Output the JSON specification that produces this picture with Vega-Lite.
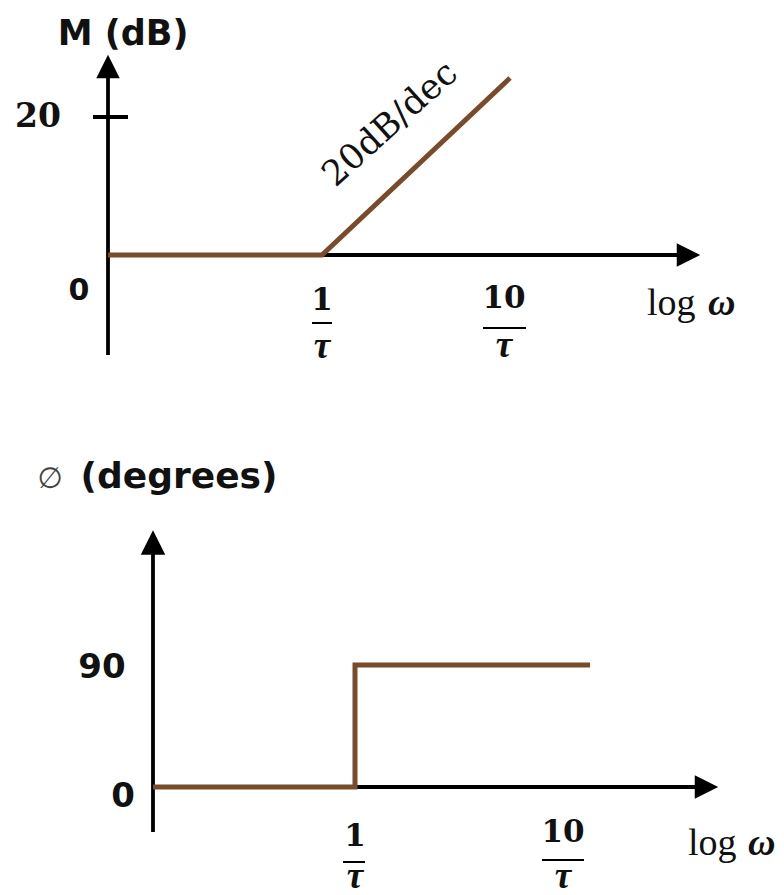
{
  "$schema": "https://vega.github.io/schema/vega-lite/v6.json",
  "padding": 0,
  "background": "white",
  "config": {"view": {"stroke": null}, "concat": {"spacing": 0}},
  "datasets": {
    "top_axes": [
      {"x": -1.1694, "x2": -1.1694, "y": -14.49, "y2": 26.5},
      {"x": -1.1694, "x2": 1.951, "y": 0, "y2": 0},
      {"x": -1.2514, "x2": -1.0601, "y": 20, "y2": 20}
    ],
    "top_bars": [
      {"x": -0.0546, "x2": 0.0546, "y": -9.855, "y2": -9.855},
      {"x": 0.8798, "x2": 1.1148, "y": -10.58, "y2": -10.58}
    ],
    "top_up": [{"x": -1.1694, "y": 27.32}],
    "top_right": [{"x": 2.0027, "y": 0}],
    "top_curve": [
      {"i": 0, "x": -1.1694, "y": 0},
      {"i": 1, "x": 0, "y": 0},
      {"i": 2, "x": 1.0273, "y": 25.65}
    ],
    "top_title": [{"x": -1.0874, "y": 30.43, "label": "M (dB)"}],
    "top_zero": [{"x": -1.3279, "y": -6.52, "label": "0"}],
    "top_twenty": [{"x": -1.5519, "y": 18.55, "label": "20"}],
    "top_nums": [
      {"x": 0, "y": -7.97, "label": "1"},
      {"x": 0.9945, "y": -7.68, "label": "10"}
    ],
    "top_tau": [
      {"x": 0, "y": -14.93, "label": "τ"},
      {"x": 0.9945, "y": -14.78, "label": "τ"}
    ],
    "top_log": [{"x": 1.776, "y": -8.7, "label": "log"}],
    "top_omega": [{"x": 2.1093, "y": -8.7, "label": "ω"}],
    "top_slope": [{"x": 0.3716, "y": 19.0, "label": "20dB/dec"}],
    "bot_axes": [
      {"x": -0.9712, "x2": -0.9712, "y": -33.2, "y2": 174},
      {"x": -0.9712, "x2": 1.65, "y": 0, "y2": 0}
    ],
    "bot_bars": [
      {"x": -0.0577, "x2": 0.0481, "y": -55.33, "y2": -55.33},
      {"x": 0.899, "x2": 1.101, "y": -53.85, "y2": -53.85}
    ],
    "bot_up": [{"x": -0.9712, "y": 180.37}],
    "bot_right": [{"x": 1.6899, "y": 0}],
    "bot_curve": [
      {"i": 0, "x": -0.9712, "y": 0},
      {"i": 1, "x": 0, "y": 0},
      {"i": 2, "x": 0, "y": 90},
      {"i": 3, "x": 1.1298, "y": 90}
    ],
    "bot_sans": [
      {"x": -1.2163, "y": 80.41, "label": "90"},
      {"x": -1.1154, "y": -14.75, "label": "0"}
    ],
    "bot_title": [{"x": -0.8462, "y": 220.57, "label": "(degrees)"}],
    "bot_phi": [{"x": -1.4663, "y": 220.57, "label": "∅"}],
    "bot_nums": [
      {"x": 0, "y": -43.52, "label": "1"},
      {"x": 1.0, "y": -40.57, "label": "10"}
    ],
    "bot_tau": [
      {"x": 0, "y": -74.51, "label": "τ"},
      {"x": 1.0, "y": -74.51, "label": "τ"}
    ],
    "bot_log": [{"x": 1.601, "y": -50.16, "label": "log"}],
    "bot_omega": [{"x": 1.8894, "y": -50.16, "label": "ω"}]
  },
  "vconcat": [
    {
      "width": 784,
      "height": 400,
      "encoding": {
        "x": {"field": "x", "type": "quantitative", "scale": {"domain": [-1.7596, 2.5246], "nice": false, "zero": false}, "axis": null},
        "y": {"field": "y", "type": "quantitative", "scale": {"domain": [-21.014, 36.957], "nice": false, "zero": false}, "axis": null}
      },
      "layer": [
        {"data": {"name": "top_axes"}, "mark": {"type": "rule", "color": "black", "strokeWidth": 3.8}, "encoding": {"x2": {"field": "x2"}, "y2": {"field": "y2"}}},
        {"data": {"name": "top_bars"}, "mark": {"type": "rule", "color": "black", "strokeWidth": 2}, "encoding": {"x2": {"field": "x2"}, "y2": {"field": "y2"}}},
        {"data": {"name": "top_up"}, "mark": {"type": "point", "shape": "M0,-1L1,1L-1,1Z", "size": 550, "filled": true, "color": "black", "opacity": 1, "strokeWidth": 0}},
        {"data": {"name": "top_right"}, "mark": {"type": "point", "shape": "M1,0L-1,-1L-1,1Z", "size": 550, "filled": true, "color": "black", "opacity": 1, "strokeWidth": 0}},
        {"data": {"name": "top_curve"}, "mark": {"type": "line", "color": "#7a4b2b", "strokeWidth": 5, "strokeCap": "butt", "strokeJoin": "miter"}, "encoding": {"order": {"field": "i", "type": "quantitative"}}},
        {"data": {"name": "top_title"}, "mark": {"type": "text", "font": "DejaVu Sans", "fontWeight": "bold", "fontSize": 35, "align": "center", "baseline": "alphabetic", "color": "#111"}, "encoding": {"text": {"field": "label"}}},
        {"data": {"name": "top_zero"}, "mark": {"type": "text", "font": "DejaVu Sans", "fontWeight": "bold", "fontSize": 30, "align": "center", "baseline": "alphabetic", "color": "#111"}, "encoding": {"text": {"field": "label"}}},
        {"data": {"name": "top_twenty"}, "mark": {"type": "text", "font": "DejaVu Serif", "fontWeight": "bold", "fontSize": 33, "align": "center", "baseline": "alphabetic", "color": "#111"}, "encoding": {"text": {"field": "label"}}},
        {"data": {"name": "top_nums"}, "mark": {"type": "text", "font": "DejaVu Serif", "fontWeight": "bold", "fontSize": 31, "align": "center", "baseline": "alphabetic", "color": "#111"}, "encoding": {"text": {"field": "label"}}},
        {"data": {"name": "top_tau"}, "mark": {"type": "text", "font": "Liberation Serif", "fontWeight": "bold", "fontStyle": "italic", "fontSize": 37, "align": "center", "baseline": "alphabetic", "color": "#111"}, "encoding": {"text": {"field": "label"}}},
        {"data": {"name": "top_log"}, "mark": {"type": "text", "font": "Liberation Serif", "fontSize": 38, "align": "left", "baseline": "alphabetic", "color": "#111"}, "encoding": {"text": {"field": "label"}}},
        {"data": {"name": "top_omega"}, "mark": {"type": "text", "font": "Liberation Serif", "fontWeight": "bold", "fontStyle": "italic", "fontSize": 38, "align": "left", "baseline": "alphabetic", "color": "#111"}, "encoding": {"text": {"field": "label"}}},
        {"data": {"name": "top_slope"}, "mark": {"type": "text", "font": "DejaVu Serif", "fontSize": 35, "angle": -42, "align": "center", "baseline": "middle", "color": "#111"}, "encoding": {"text": {"field": "label"}}}
      ]
    },
    {
      "width": 784,
      "height": 495,
      "encoding": {
        "x": {"field": "x", "type": "quantitative", "scale": {"domain": [-1.7067, 2.0625], "nice": false, "zero": false}, "axis": null},
        "y": {"field": "y", "type": "quantitative", "scale": {"domain": [-79.672, 285.49], "nice": false, "zero": false}, "axis": null}
      },
      "layer": [
        {"data": {"name": "bot_axes"}, "mark": {"type": "rule", "color": "black", "strokeWidth": 3.8}, "encoding": {"x2": {"field": "x2"}, "y2": {"field": "y2"}}},
        {"data": {"name": "bot_bars"}, "mark": {"type": "rule", "color": "black", "strokeWidth": 2}, "encoding": {"x2": {"field": "x2"}, "y2": {"field": "y2"}}},
        {"data": {"name": "bot_up"}, "mark": {"type": "point", "shape": "M0,-1L1,1L-1,1Z", "size": 600, "filled": true, "color": "black", "opacity": 1, "strokeWidth": 0}},
        {"data": {"name": "bot_right"}, "mark": {"type": "point", "shape": "M1,0L-1,-1L-1,1Z", "size": 550, "filled": true, "color": "black", "opacity": 1, "strokeWidth": 0}},
        {"data": {"name": "bot_curve"}, "mark": {"type": "line", "color": "#7a4b2b", "strokeWidth": 5, "strokeCap": "butt", "strokeJoin": "miter"}, "encoding": {"order": {"field": "i", "type": "quantitative"}}},
        {"data": {"name": "bot_sans"}, "mark": {"type": "text", "font": "DejaVu Sans", "fontWeight": "bold", "fontSize": 34, "align": "center", "baseline": "alphabetic", "color": "#111"}, "encoding": {"text": {"field": "label"}}},
        {"data": {"name": "bot_title"}, "mark": {"type": "text", "font": "DejaVu Sans", "fontWeight": "bold", "fontSize": 36, "align": "center", "baseline": "alphabetic", "color": "#111"}, "encoding": {"text": {"field": "label"}}},
        {"data": {"name": "bot_phi"}, "mark": {"type": "text", "font": "DejaVu Sans", "fontSize": 29, "align": "center", "baseline": "alphabetic", "color": "#444"}, "encoding": {"text": {"field": "label"}}},
        {"data": {"name": "bot_nums"}, "mark": {"type": "text", "font": "DejaVu Serif", "fontWeight": "bold", "fontSize": 31, "align": "center", "baseline": "alphabetic", "color": "#111"}, "encoding": {"text": {"field": "label"}}},
        {"data": {"name": "bot_tau"}, "mark": {"type": "text", "font": "Liberation Serif", "fontWeight": "bold", "fontStyle": "italic", "fontSize": 37, "align": "center", "baseline": "alphabetic", "color": "#111"}, "encoding": {"text": {"field": "label"}}},
        {"data": {"name": "bot_log"}, "mark": {"type": "text", "font": "Liberation Serif", "fontSize": 38, "align": "left", "baseline": "alphabetic", "color": "#111"}, "encoding": {"text": {"field": "label"}}},
        {"data": {"name": "bot_omega"}, "mark": {"type": "text", "font": "Liberation Serif", "fontWeight": "bold", "fontStyle": "italic", "fontSize": 38, "align": "left", "baseline": "alphabetic", "color": "#111"}, "encoding": {"text": {"field": "label"}}}
      ]
    }
  ]
}
